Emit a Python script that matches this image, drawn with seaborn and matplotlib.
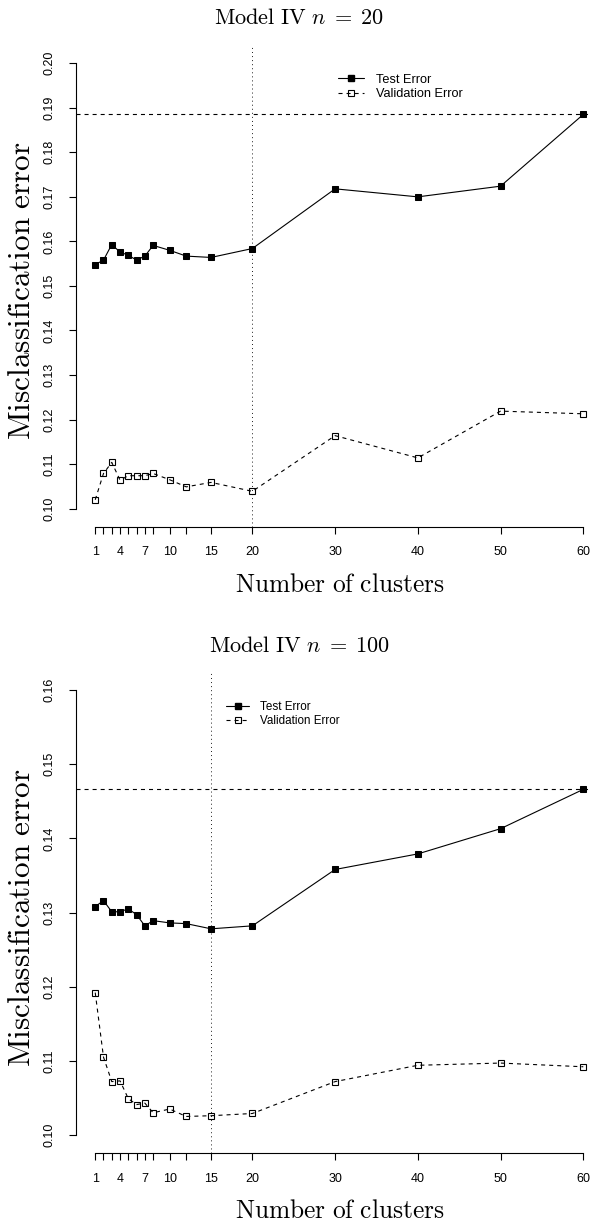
import numpy as np
import pandas as pd
import matplotlib
matplotlib.use("Agg")
import matplotlib.pyplot as plt
import seaborn as sns
from matplotlib.lines import Line2D

# data
clusters = [1, 2, 3, 4, 5, 6, 7, 8, 10, 12, 15, 20, 30, 40, 50, 60]
x_tick_labels = ["1", "", "", "4", "", "", "7", "", "10", "", "15", "20", "30", "40", "50", "60"]

test_n20 = [0.1548, 0.1558, 0.1593, 0.1576, 0.1569, 0.1558, 0.1567, 0.1591,
            0.1580, 0.1567, 0.1564, 0.1584, 0.1718, 0.1700, 0.1724, 0.1885]
val_n20 = [0.1020, 0.1079, 0.1104, 0.1064, 0.1074, 0.1074, 0.1074, 0.1079,
           0.1065, 0.1049, 0.1059, 0.1039, 0.1164, 0.1114, 0.1219, 0.1213]

test_n100 = [0.1308, 0.1316, 0.1301, 0.1301, 0.1305, 0.1297, 0.1282, 0.1289,
             0.1286, 0.1285, 0.1278, 0.1282, 0.1358, 0.1379, 0.1413, 0.1466]
val_n100 = [0.1192, 0.1105, 0.1072, 0.1073, 0.1049, 0.1041, 0.1043, 0.1030,
            0.1035, 0.1025, 0.1026, 0.1029, 0.1072, 0.1094, 0.1097, 0.1092]

best_n20 = 20
best_n100 = 15
yticks_n20 = [0.10, 0.11, 0.12, 0.13, 0.14, 0.15, 0.16, 0.17, 0.18, 0.19, 0.20]
yticks_n100 = [0.10, 0.11, 0.12, 0.13, 0.14, 0.15, 0.16]

sns.set_style("ticks")
plt.rcParams["font.family"] = ["Liberation Sans", "DejaVu Sans"]
plt.rcParams["mathtext.fontset"] = "cm"
plt.rcParams["lines.scale_dashes"] = False
for k in ["text.color", "axes.labelcolor", "xtick.color", "ytick.color", "axes.edgecolor"]:
    plt.rcParams[k] = "black"

W, H = 592, 1224
fig = plt.figure(figsize=(W / 100, H / 100), dpi=100)

DASH = (0, (2.9, 2.9))
DOT = (0, (0.72, 2.2))


def px(x, y):
    return x / W, 1 - y / H


panels = [
    dict(test=test_n20, val=val_n20, best=best_n20, yticks=yticks_n20,
         top=45.4, bottom=526.5, title=r"$\mathrm{Model\ IV}\ n\;=\;20$", title_y=24,
         leg=(338, 86.8), leg_size=9.2),
    dict(test=test_n100, val=val_n100, best=best_n100, yticks=yticks_n100,
         top=672.2, bottom=1152.8, title=r"$\mathrm{Model\ IV}\ n\;=\;100$", title_y=651.7,
         leg=(226, 714), leg_size=8.4),
]

for p in panels:
    left, right = 75.7, 602.8
    ax = fig.add_axes([left / W, 1 - p["bottom"] / H, (right - left) / W, (p["bottom"] - p["top"]) / H])
    df = pd.DataFrame({"clusters": clusters, "test": p["test"], "val": p["val"]})

    sns.lineplot(data=df, x="clusters", y="test", ax=ax, color="black", lw=0.8,
                 marker="s", markersize=5, markerfacecolor="black", markeredgecolor="black")
    sns.lineplot(data=df, x="clusters", y="val", ax=ax, color="black", lw=0.8, linestyle=DASH,
                 marker="s", markersize=4.6, markerfacecolor="none", markeredgecolor="black",
                 markeredgewidth=0.8)
    ax.axvline(p["best"], color="black", lw=0.6, linestyle=DOT)
    ax.axhline(p["test"][-1], color="black", lw=0.8, linestyle=DASH)

    yt = p["yticks"]
    yr = yt[-1] - yt[0]
    ax.set_xlim(1 - 59 * 0.04, 60 + 59 * 0.04)
    ax.set_ylim(yt[0] - yr * 0.04, yt[-1] + yr * 0.04)
    ax.set_xticks(clusters)
    ax.set_xticklabels(x_tick_labels)
    ax.set_yticks(yt)
    ax.set_yticklabels([f"{v:.2f}" for v in yt])
    ax.set_xlabel("")
    ax.set_ylabel("")

    for s in ["top", "right"]:
        ax.spines[s].set_visible(False)
    ax.spines["left"].set_bounds(yt[0], yt[-1])
    ax.spines["bottom"].set_bounds(1, 60)
    for s in ["left", "bottom"]:
        ax.spines[s].set_linewidth(0.8)
        ax.spines[s].set_color("black")
    ax.tick_params(axis="both", direction="out", length=5.2, width=0.8, color="black",
                   labelcolor="black", labelsize=9, pad=9)
    ax.tick_params(axis="y", labelrotation=90)
    for t in ax.get_yticklabels():
        t.set_va("center")

    handles = [
        Line2D([], [], color="black", lw=0.8, marker="s", markersize=5),
        Line2D([], [], color="black", lw=0.8, linestyle=DASH, marker="s", markersize=4.6,
               markerfacecolor="none", markeredgewidth=0.8),
    ]
    lx, ly = px(*p["leg"])
    ax.legend(handles, ["Test Error", "Validation Error"], loc="center left",
              bbox_to_anchor=(lx, ly), bbox_transform=fig.transFigure, frameon=False,
              borderpad=0, borderaxespad=0, handlelength=2.0, handletextpad=0.95,
              labelspacing=0.2, fontsize=p["leg_size"])

    tx, ty = px(299.5, p["title_y"])
    fig.text(tx, ty, p["title"], ha="center", va="baseline", fontsize=16)
    xx, xy = px(340, p["bottom"] + 65)
    fig.text(xx, xy, r"$\mathrm{Number\ of\ clusters}$", ha="center", va="baseline", fontsize=18.3)
    yx, yy = px(22, (p["top"] + p["bottom"]) / 2 + 5)
    fig.text(yx, yy, r"$\mathrm{Misclassification\ error}$", ha="center", va="center",
             rotation=90, fontsize=22.5)

fig.savefig("out.png", dpi=100)
